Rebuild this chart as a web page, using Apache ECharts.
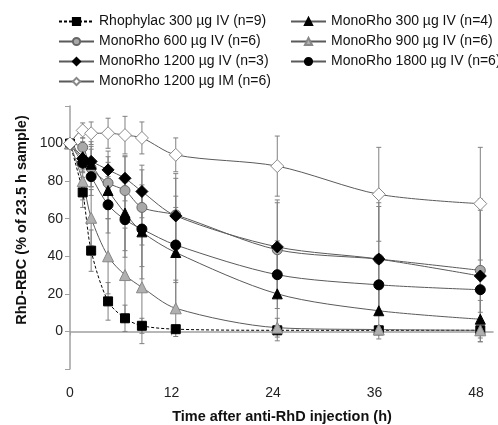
<!DOCTYPE html>
<html>
<head>
<meta charset="utf-8">
<script src="https://cdn.jsdelivr.net/npm/echarts@6/dist/echarts.min.js"></script>
<style>
html,body{margin:0;padding:0;background:#fff;}
#c{width:498px;height:425px;}
</style>
</head>
<body>
<div id="c"></div>
<script>
// Sampling times (h)
const times = [0, 1.5, 2.5, 4.5, 6.5, 8.5, 12.5, 24.5, 36.5, 48.5];
const xTicks = [0, 12, 24, 36, 48];
const yTicks = [0, 20, 40, 60, 80, 100];

// Series names
const names = [
  'Rhophylac 300 µg IV (n=9)',
  'MonoRho 600 µg IV (n=6)',
  'MonoRho 1200 µg IV (n=3)',
  'MonoRho 1200 µg IM (n=6)',
  'MonoRho 300 µg IV (n=4)',
  'MonoRho 900 µg IV (n=6)',
  'MonoRho 1800 µg IV (n=6)'
];

// Means (% of 23.5 h sample)
const rhophylac300 = [100, 74, 43, 16, 7, 3, 1.2, 0.6, 0.6, 0.6];
const mono600     = [100, 98, 87, 79, 75, 66, 62, 43.5, 38.5, 32.5];
const mono1200iv  = [100, 92, 90.5, 86, 81.5, 74.5, 61.5, 45, 38.5, 29.5];
const mono1200im  = [100, 107, 105.5, 105.5, 104.5, 103, 94, 88, 73, 68];
const mono300     = [100, 93, 89, 75, 63, 53, 42, 20, 11, 6.5];
const mono900     = [100, 80, 60.5, 40, 30, 23.5, 12.3, 2, 1, 0.6];
const mono1800    = [100, 89.5, 82.4, 67.4, 59.5, 54.5, 46, 30.2, 24.8, 22.2];

// Standard deviations (error bars)
const sdRhophylac300 = [0, 8, 11, 10, 7, 4, 1, 0.5, 0.5, 0.5];
const sd600          = [0, 5, 10, 14, 18, 20, 22, 25, 28, 38];
const sd1200iv       = [0, 6, 8, 10, 12, 14, 20, 25, 30, 35];
const sd1200im       = [0, 4, 6, 8, 10, 8.5, 9, 16, 25, 30];
const sd300          = [0, 8, 12, 15, 20, 25, 30, 25, 15, 10];
const sd900          = [0, 10, 15, 20, 25, 30, 15, 5, 2, 1];
const sd1800         = [0, 5, 10, 15, 20, 20, 20, 18, 15, 12];

const means = [rhophylac300, mono600, mono1200iv, mono1200im, mono300, mono900, mono1800];
const sds = [sdRhophylac300, sd600, sd1200iv, sd1200im, sd300, sd900, sd1800];

const FONT = 'Arial, "Liberation Sans", sans-serif';
const LINE = '#5a5a5a';

const styles = [
  {symbol: 'rect', size: 9, color: '#000', border: '#000', dashed: true},
  {symbol: 'circle', size: 10, color: '#a8a8a8', border: '#666'},
  {symbol: 'diamond', size: 12, color: '#000', border: '#000'},
  {symbol: 'diamond', size: 13, color: '#fff', border: '#888'},
  {symbol: 'triangle', size: 10, color: '#000', border: '#000'},
  {symbol: 'triangle', size: 11, color: '#b0b0b0', border: '#888'},
  {symbol: 'circle', size: 10, color: '#000', border: '#000'}
];

const series = [];
// error bars
means.forEach((m, i) => {
  const data = times.map((t, k) => [t, m[k] - sds[i][k], m[k] + sds[i][k]]);
  series.push({
    type: 'custom',
    silent: true,
    z: 1,
    renderItem: function (params, api) {
      const x = api.value(0);
      const lo = api.coord([x, api.value(1)]);
      const hi = api.coord([x, api.value(2)]);
      const w = 2.5;
      const st = {stroke: '#808080', lineWidth: 1};
      return {
        type: 'group',
        children: [
          {type: 'line', shape: {x1: lo[0], y1: lo[1], x2: hi[0], y2: hi[1]}, style: st},
          {type: 'line', shape: {x1: lo[0] - w, y1: lo[1], x2: lo[0] + w, y2: lo[1]}, style: st},
          {type: 'line', shape: {x1: hi[0] - w, y1: hi[1], x2: hi[0] + w, y2: hi[1]}, style: st}
        ]
      };
    },
    encode: {x: 0, y: [1, 2]},
    data: data
  });
});
// lines
means.forEach((m, i) => {
  const s = styles[i];
  series.push({
    name: names[i],
    type: 'line',
    z: 3 + (i === 3 ? 5 : 0),
    smooth: 0.3,
    symbol: s.symbol,
    symbolSize: s.size,
    showAllSymbol: true,
    data: times.map((t, k) => [t, m[k]]),
    lineStyle: {color: s.dashed ? '#000' : LINE, width: 1, type: s.dashed ? [3, 2] : 'solid'},
    itemStyle: {color: s.color, borderColor: s.border, borderWidth: 1, opacity: 1},
    emphasis: {disabled: true}
  });
});

const legendCommon = {
  orient: 'vertical',
  padding: 0,
  itemWidth: 35,
  itemHeight: 9,
  itemGap: 5,
  textStyle: {fontFamily: FONT, fontSize: 14, color: '#111', lineHeight: 15},
  selectedMode: false
};

const option = {
  animation: false,
  textStyle: {fontFamily: FONT},
  legend: [
    Object.assign({left: 58, top: 14, data: [names[0], names[1], names[2], names[3]]}, legendCommon),
    Object.assign({left: 290, top: 14, data: [names[4], names[5], names[6]]}, legendCommon)
  ],
  grid: {left: 70, right: 5, top: 106, bottom: 56, containLabel: false},
  xAxis: {
    type: 'value',
    min: 0, max: 50, interval: 12,
    splitLine: {show: false},
    axisLine: {lineStyle: {color: '#a0a0a0', width: 1.5}},
    axisTick: {show: true, length: 4, customValues: xTicks, lineStyle: {color: '#a0a0a0'}},
    axisLabel: {customValues: xTicks, margin: 17, fontSize: 14, color: '#222', fontFamily: FONT}
  },
  yAxis: {
    type: 'value',
    min: -20, max: 120, interval: 20,
    splitLine: {show: false},
    axisLine: {show: true, lineStyle: {color: '#a0a0a0', width: 1.5}},
    axisTick: {show: true, length: 5, lineStyle: {color: '#a0a0a0'}},
    axisLabel: {customValues: yTicks, margin: 7, fontSize: 14, color: '#222', fontFamily: FONT}
  },
  graphic: [
    {type: 'text', x: 282, y: 417,
     style: {text: 'Time after anti-RhD injection (h)', font: 'bold 14.5px ' + FONT, fill: '#111', align: 'center', verticalAlign: 'middle'}},
    {type: 'text', x: 22, y: 220, rotation: Math.PI / 2,
     style: {text: 'RhD-RBC (% of 23.5 h sample)', font: 'bold 14.5px ' + FONT, fill: '#111', align: 'center', verticalAlign: 'middle'}}
  ],
  series: series
};

const chart = echarts.init(document.getElementById('c'));
chart.setOption(option);
</script>
</body>
</html>
